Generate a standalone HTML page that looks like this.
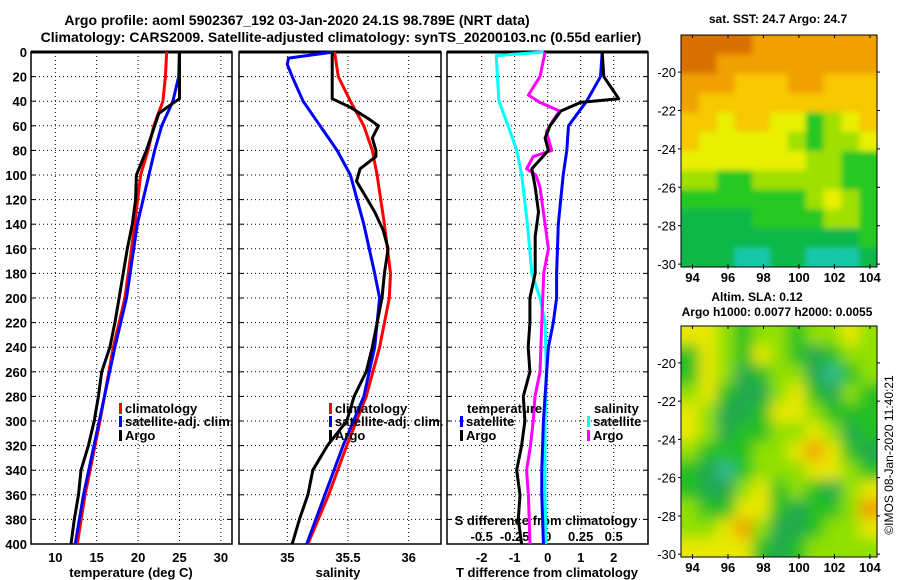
<!DOCTYPE html>
<html><head><meta charset="utf-8"><style>
body{margin:0;background:#fff;}
svg{display:block;font-family:"Liberation Sans",sans-serif;font-weight:bold;}
</style></head><body>
<svg id="c" width="900" height="580" viewBox="0 0 900 580">
<defs>
<filter id="bl" x="-10%" y="-10%" width="120%" height="120%"><feGaussianBlur stdDeviation="7"/></filter>
<filter id="bl2" x="-10%" y="-10%" width="120%" height="120%"><feGaussianBlur stdDeviation="3"/></filter>
<clipPath id="cm1"><rect x="681" y="35" width="196" height="232"/></clipPath>
<clipPath id="cm2"><rect x="681" y="326" width="196" height="231"/></clipPath>
</defs>
<text x="297" y="25" font-size="14" text-anchor="middle">Argo profile: aoml 5902367_192 03-Jan-2020 24.1S 98.789E (NRT data)</text>
<text x="341" y="42" font-size="14" text-anchor="middle">Climatology: CARS2009. Satellite-adjusted climatology: synTS_20200103.nc (0.55d earlier)</text>
<text x="778" y="23" font-size="12" text-anchor="middle">sat. SST: 24.7 Argo: 24.7</text>
<text x="757" y="301" font-size="12" text-anchor="middle">Altim. SLA: 0.12</text>
<text x="777" y="316" font-size="12" text-anchor="middle">Argo h1000: 0.0077 h2000: 0.0055</text>
<text transform="translate(893,455) rotate(-90)" font-size="12" font-weight="normal" text-anchor="middle">©IMOS 08-Jan-2020 11:40:21</text>
<g id="g"></g>
</svg>
<script>
const climDepth=[0,20,40,60,80,100,140,200,240,300,360,400];
const tClim=[23.45,23.3,23.0,21.9,21.2,20.3,19.6,18.4,17.0,15.4,13.6,12.66];
const tSat=[24.98,24.9,24.2,22.85,22.0,21.3,19.9,18.6,17.2,15.3,13.4,12.4];
const argoDepth=[0,20,38,45,50,60,80,100,120,140,160,180,200,220,240,260,280,300,320,340,360,380,400];
const tArgo=[25,25,25,23.5,22.5,22.0,21.0,19.8,19.7,19.3,18.7,18.2,17.7,17.2,16.6,15.6,15.2,14.7,14.0,13.1,12.8,12.3,11.9];
const sClimDepth=[0,20,40,60,80,100,140,180,200,240,280,320,360,400];
const sClim=[35.39,35.42,35.52,35.63,35.70,35.74,35.80,35.85,35.84,35.76,35.65,35.49,35.34,35.17];
const sSatDepth=[0,5,10,20,40,60,80,100,140,180,200,240,280,320,360,400];
const sSat=[35.38,35.01,35.0,35.04,35.13,35.27,35.41,35.52,35.63,35.72,35.76,35.72,35.63,35.46,35.31,35.16];
const sArgoDepth=[0,38,45,55,60,70,80,85,95,105,115,130,145,160,180,200,240,260,280,300,320,340,360,380,400];
const sArgo=[35.37,35.37,35.52,35.68,35.75,35.70,35.73,35.73,35.60,35.57,35.63,35.72,35.79,35.83,35.80,35.78,35.70,35.65,35.55,35.49,35.33,35.21,35.17,35.10,35.04];
const dDepthSat=[0,20,40,60,80,100,140,180,200,220,240,260,300,340,360,400];
const dTSat=[1.65,1.6,1.18,0.63,0.58,0.47,0.32,0.27,0.27,0.17,0.02,-0.03,-0.13,-0.18,-0.18,-0.13];
const dDepthArgo=[0,20,38,41,48,60,70,80,95,110,130,150,180,200,220,240,260,280,300,320,340,360,380,400];
const dTArgo=[1.65,1.7,2.15,1.0,0.4,0.07,-0.08,0.02,-0.48,-0.38,-0.28,-0.38,-0.38,-0.54,-0.54,-0.59,-0.54,-0.74,-0.69,-0.79,-0.94,-0.84,-0.89,-0.79];
const dSDepthSat=[0,3,40,60,80,100,140,180,200,220,260,300,360,400];
const dSSat=[-0.03,-0.39,-0.37,-0.30,-0.235,-0.197,-0.154,-0.12,-0.058,-0.02,-0.01,-0.02,-0.02,-0.013];
const dSDepthArgo=[0,20,35,41,48,55,65,80,85,95,100,110,140,160,180,220,260,280,300,320,340,360,400];
const dSArgo=[-0.02,-0.058,-0.146,-0.06,0.09,0.043,-0.01,0.03,-0.11,-0.16,-0.09,-0.058,-0.02,0.005,-0.03,-0.045,-0.058,-0.096,-0.11,-0.13,-0.16,-0.146,-0.134];
const depthTicks=[0,20,40,60,80,100,120,140,160,180,200,220,240,260,280,300,320,340,360,380,400];
const tTicks=[10,15,20,25,30];
const sTicks=[35,35.5,36];
const dTTicks=[-2,-1,0,1,2];
const dSTicks=[-0.5,-0.25,0,0.25,0.5];
const lonTicks=[94,96,98,100,102,104];
const latTicks=[-20,-22,-24,-26,-28,-30];
const sstGrid=[
[7,7,6.5,6.5,6,6,6,6,6,6,6],
[7,6.5,6,6,6,6,6,6,6,6,5.5],
[6,6,5.5,5,5,5,5.5,6,5,5,5],
[5.5,5,5,5,5,5,5,5,5,5,5],
[5,4.5,4,4.5,4.5,4,3.5,2,3,4,4.5],
[4.5,4,4,4,4,4,3,2,3,3,4],
[4,4,4,4,4,4,4,3,3,2,2],
[3,2.5,2,2,3,3,3,3,3,2,1.5],
[1.5,1.5,2,2,2,2,2,3,4,3,2],
[1,1,1,1,1.5,2,2,2,3,3,2],
[0.7,1,1,1,1,1,1,0.8,0.8,1,2],
[0.6,0.5,0.5,0.2,0.2,0.5,0.5,0.2,0.2,0.2,0.5]];
const slaGrid=[
[4,4,3,2,3,3,2,3,3,4,3],
[2,4,3,2,4,3,2,1,2,3,3],
[2,4,3,1,2,3,3,1,0,2,3],
[3,4,2,1,1,3,4,2,1,3,2],
[4,3,1,1,2,4,4,3,2,2,2],
[4,3,1,2,2,3,3,4,3,1,2],
[3,2,2,2,3,3,4,5,4,2,1],
[2,1,0,2,3,3,3,4,4,3,2],
[2,1,1,3,4,2,3,2,1,3,4],
[3,2,2,4,4,2,1,2,2,3,5],
[3,3,4,5,3,1,1,2,3,3,4],
[4,4,4,4,2,1,2,3,3,3,3]];
const sstColors=["#18c8a8","#10b848","#28c820","#a0e000","#e8f000","#f8c800","#f0a000","#d87000"];
const slaColors=["#30b890","#20a850","#20c020","#90e000","#e8e800","#f0a000"];

const NS="http://www.w3.org/2000/svg";
const G=document.getElementById('g');
function mk(t,a,p){const e=document.createElementNS(NS,t);for(const k in a)e.setAttribute(k,a[k]);(p||G).appendChild(e);return e;}
const yD=d=>52+d*1.23;
const xT=v=>55.3+(v-10)*8.28;
const xS=v=>287.3+(v-35)*121.4;
const xDT=v=>547.7+v*33;
const xDS=v=>547.7+v*132;
const panels=[[31,232,'temperature-panel'],[239,441,'salinity-panel'],[447,648,'difference-panel']];
const ticksFor=[tTicks.map(xT),sTicks.map(xS),dTTicks.map(xDT)];
panels.forEach((p,i)=>{
  const g=mk('g',{});
  
  
  depthTicks.forEach(d=>{const l=mk('line',{x1:p[0],x2:p[1],y1:yD(d),y2:yD(d),stroke:'#000','stroke-dasharray':'1 3','stroke-width':1},g);
    
    mk('line',{x1:p[0],x2:p[0]+5,y1:yD(d),y2:yD(d),stroke:'#000'},g);mk('line',{x1:p[1]-5,x2:p[1],y1:yD(d),y2:yD(d),stroke:'#000'},g);});
  ticksFor[i].forEach(x=>{const l=mk('line',{x1:x,x2:x,y1:52,y2:544,stroke:'#000','stroke-dasharray':'1 3'},g);
    });
  mk('rect',{x:p[0],y:52,width:p[1]-p[0],height:492,fill:'none',stroke:'#000','stroke-width':1.5},g);
  mk('line',{x1:p[0],x2:p[1],y1:52,y2:52,stroke:'#000','stroke-width':3},g);
});
depthTicks.forEach(d=>{const t=mk('text',{x:27,y:yD(d)+5,'font-size':13,'text-anchor':'end'});t.textContent=d;
  });
function xlab(arr,fx,y,name){arr.forEach(v=>{const t=mk('text',{x:fx(v),y:y,'font-size':13,'text-anchor':'middle'});t.textContent=v;
  });}
xlab(tTicks,xT,562,'temperature-tick-label');
xlab(sTicks,xS,562,'salinity-tick-label');
xlab(dTTicks,xDT,562,'t-diff-tick-label');
xlab(dSTicks,xDS,541,'s-diff-tick-label');
function lab(x,y,s,name,anchor){const t=mk('text',{x:x,y:y,'font-size':13,'text-anchor':anchor||'middle'});t.textContent=s;}
lab(131,577,'temperature (deg C)','x-axis-title-temperature');
lab(338,577,'salinity','x-axis-title-salinity');
lab(547,577,'T difference from climatology','x-axis-title-t-diff');
lab(546,525,'S difference from climatology','s-diff-axis-title');
function line(xs,ds,fx,col,name){const pts=xs.map((v,i)=>fx(v).toFixed(1)+','+yD(ds[i]).toFixed(1)).join(' ');
  const e=mk('polyline',{points:pts,fill:'none',stroke:col,'stroke-width':3,'stroke-linejoin':'round'});
  }
line(tClim,climDepth,xT,'#f00','temperature-climatology-line');
line(tSat,climDepth,xT,'#00f','temperature-satellite-line');
line(tArgo,argoDepth,xT,'#000','temperature-argo-line');
line(sClim,sClimDepth,xS,'#f00','salinity-climatology-line');
line(sSat,sSatDepth,xS,'#00f','salinity-satellite-line');
line(sArgo,sArgoDepth,xS,'#000','salinity-argo-line');
line(dSSat,dSDepthSat,xDS,'#0ff','s-diff-satellite-line');
line(dSArgo,dSDepthArgo,xDS,'#f0f','s-diff-argo-line');
line(dTSat,dDepthSat,xDT,'#00f','t-diff-satellite-line');
line(dTArgo,dDepthArgo,xDT,'#000','t-diff-argo-line');
function leg(x,y,col,s,name){mk('rect',{x:x,y:y-10,width:3,height:11,fill:col});const t=mk('text',{x:x+6,y:y,'font-size':13});t.textContent=s;}
leg(119,413,'#f00','climatology','legend-climatology');
leg(119,426,'#00f','satellite-adj. clim.','legend-satellite-adj');
leg(119,440,'#000','Argo','legend-argo');
leg(329,413,'#f00','climatology','legend-s-climatology');
leg(329,426,'#00f','satellite-adj. clim.','legend-s-satellite-adj');
leg(329,440,'#000','Argo','legend-s-argo');
lab(467,413,'temperature','legend-temperature-heading','start');
leg(460,426,'#00f','satellite','legend-t-satellite');
leg(460,440,'#000','Argo','legend-t-argo');
lab(594,413,'salinity','legend-salinity-heading','start');
leg(587,426,'#0ff','satellite','legend-s-satellite');
leg(587,440,'#f0f','Argo','legend-s-argo-diff');
function map(grid,cols,top,bot,clip,name,filt){
  const L=681,R=877,lon0=93.35,lon1=104.4,lat0=-18.07,lat1=-30.15;
  const xL=v=>L+(v-lon0)/(lon1-lon0)*(R-L);
  const yL=v=>top+(v-lat0)/(lat1-lat0)*(bot-top);
  const g=mk('g',{'clip-path':'url(#'+clip+')'});
  
  const inner=mk('g',{filter:'url(#'+filt+')'},g);
  const nr=grid.length,nc=grid[0].length;
  const cw=(R-L)/nc,ch=(bot-top)/nr;
  grid.forEach((row,r)=>row.forEach((v,c)=>{
    let x0=L+c*cw,y0=top+r*ch,w=cw+1,h=ch+1;
    if(c===0){x0-=12;w+=12;} if(c===nc-1){w+=12;}
    if(r===0){y0-=12;h+=12;} if(r===nr-1){h+=12;}
    const lo=Math.floor(v),hi=Math.min(lo+1,cols.length-1);
    const col=v-lo>0.4?cols[hi]:cols[lo];
    const e=mk('rect',{x:x0,y:y0,width:w,height:h,fill:col},inner);
    
  }));
  mk('rect',{x:L,y:top,width:R-L,height:bot-top,fill:'none',stroke:'#000'});
  lonTicks.forEach(v=>{mk('line',{x1:xL(v),x2:xL(v),y1:top,y2:top+3,stroke:'#000'});mk('line',{x1:xL(v),x2:xL(v),y1:bot-3,y2:bot+2,stroke:'#000'});
    const t=mk('text',{x:xL(v),y:bot+15,'font-size':13,'text-anchor':'middle'});t.textContent=v;});
  latTicks.forEach(v=>{mk('line',{x1:L-3,x2:L,y1:yL(v),y2:yL(v),stroke:'#000'});mk('line',{x1:R,x2:R+3,y1:yL(v),y2:yL(v),stroke:'#000'});
    const t=mk('text',{x:L-5,y:yL(v)+5,'font-size':13,'font-weight':'normal','text-anchor':'end'});t.textContent=v;});
}
map(sstGrid,sstColors,35,267,'cm1','sst-map','bl2');
map(slaGrid,slaColors,326,557,'cm2','sla-map','bl');
</script>
</body></html>
